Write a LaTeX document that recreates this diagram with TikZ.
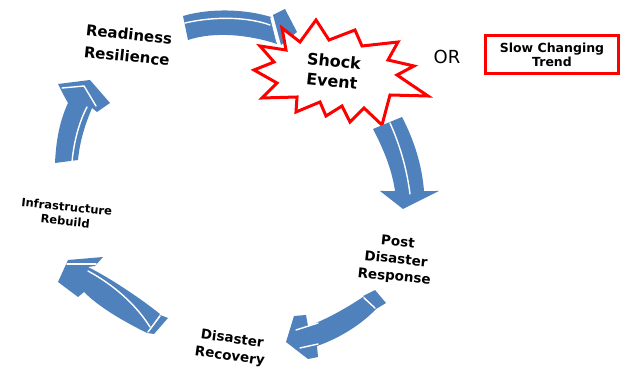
\documentclass[tikz,border=0pt]{standalone}
\usepackage{fontspec}
\setmainfont{DejaVu Sans}
\definecolor{arrowblue}{RGB}{79,129,189}
\definecolor{burstred}{RGB}{255,0,0}
\begin{document}
\begin{tikzpicture}[x=1pt,y=-1pt,
  arr/.style={fill=arrowblue,draw=none},
  fold/.style={draw=white,line width=1.4pt,line cap=round},
  lbl/.style={align=center,inner sep=0pt,font=\bfseries,text=black},
]
\useasboundingbox (0,0) rectangle (625,377);

% ---------- arrow 1 (top, towards the shock) ----------
\fill[arr] (183,16) .. controls (210,8) and (245,9) .. (271,17) -- (277,44)
  .. controls (250,35) and (215,31) .. (188,40) -- cycle;
\fill[arr] (273,15) -- (285,9) -- (297,32) -- (281,45) -- cycle;
\draw[fold] (185,23) .. controls (215,16) and (248,17) .. (270,25);
\draw[fold] (271,18) -- (277,42);

% ---------- shock event starburst ----------
\filldraw[draw=burstred,fill=white,line width=3pt,line join=miter]
  (282,28) -- (300,42) -- (316,20) -- (329,40) -- (355,30) -- (362,46)
  -- (398,42) -- (388,60) -- (414,66) -- (397,75) -- (428,96) -- (390,95)
  -- (382,125) -- (364,108) -- (350,122) -- (342,106) -- (326,116)
  -- (320,102) -- (296,112) -- (297,97) -- (262,98) -- (277,83)
  -- (254,70) -- (274,62) -- (260,46) -- (286,50) -- cycle;
\node[lbl,font=\bfseries\fontsize{16}{20}\selectfont,rotate=-6] (shock) at (333,71) {Shock\\Event};

% ---------- arrow 2 (right, going down) ----------
\fill[arr] (373,129) -- (402,117) .. controls (414,140) and (422,165) .. (424,191)
  -- (439,191) -- (403,209) -- (380,191) -- (395,191)
  .. controls (392,170) and (384,150) .. (373,129) -- cycle;
\draw[fold] (390,123) .. controls (400,145) and (407,170) .. (410,194);
\draw[fold] (384,190) -- (394,190);
\draw[fold] (425,190) -- (435,190);

% ---------- arrow 3 (lower right, going left) ----------
\fill[arr] (363,297) .. controls (345,309) and (325,320) .. (308,326)
  -- (306,315) -- (294,316) -- (286,342) -- (308,359) -- (318,357)
  -- (317,346) .. controls (340,338) and (362,324) .. (376,309) -- cycle;
\fill[arr] (363,296) -- (375,290) -- (386,303) -- (376,309) -- cycle;
\draw[fold] (364,298) -- (375,308);
\draw[fold] (296,330) -- (318,323);
\draw[fold] (300,348) -- (318,344);

% ---------- arrow 4 (lower left, going up-left) ----------
\fill[arr] (147,333) .. controls (125,322) and (100,308) .. (84,292) -- (78,297)
  -- (58,282) -- (68,260) -- (103,257) -- (95,266) -- (88,267)
  .. controls (110,278) and (140,298) .. (160,314) -- cycle;
\fill[arr] (147,333) -- (160,315) -- (168,318) -- (154,334) -- cycle;
\draw[fold] (88,271) .. controls (112,284) and (135,303) .. (150,327);
\draw[fold] (148,332) -- (160,316);
\draw[fold] (67,264) -- (96,264);

% ---------- arrow 5 (left, going up) ----------
\fill[arr] (55,163) .. controls (56,140) and (60,120) .. (68,103) -- (63,94)
  -- (58,84) -- (90,80) -- (110,103) -- (97,112) -- (92,108)
  .. controls (85,125) and (80,140) .. (78,160) -- cycle;
\draw[fold] (72,162) .. controls (74,140) and (80,120) .. (87,107);
\draw[fold] (62,88) -- (84,86) -- (96,106);

% ---------- labels ----------
\node[lbl,font=\bfseries\fontsize{15}{22}\selectfont,rotate=-6] (ready) at (128,45) {Readiness\\Resilience};
\node[font=\fontsize{18}{21}\selectfont,inner sep=0pt] (or) at (447,57) {OR};
\node[draw=burstred,line width=3pt,minimum width=133pt,minimum height=38pt,
  align=center,inner sep=0pt,font=\bfseries\fontsize{12.5}{14.5}\selectfont] (trend) at (552,55) {Slow Changing\\Trend};
\node[lbl,font=\bfseries\fontsize{11.5}{14.5}\selectfont,rotate=-6] (infra) at (66,214) {Infrastructure\\Rebuild};
\node[lbl,font=\bfseries\fontsize{13.5}{17.5}\selectfont,rotate=-6] (post) at (396,260) {Post\\Disaster\\Response};
\node[lbl,font=\bfseries\fontsize{13.5}{17.5}\selectfont,rotate=-8] (recov) at (231,348) {Disaster\\Recovery};
\end{tikzpicture}
\end{document}
